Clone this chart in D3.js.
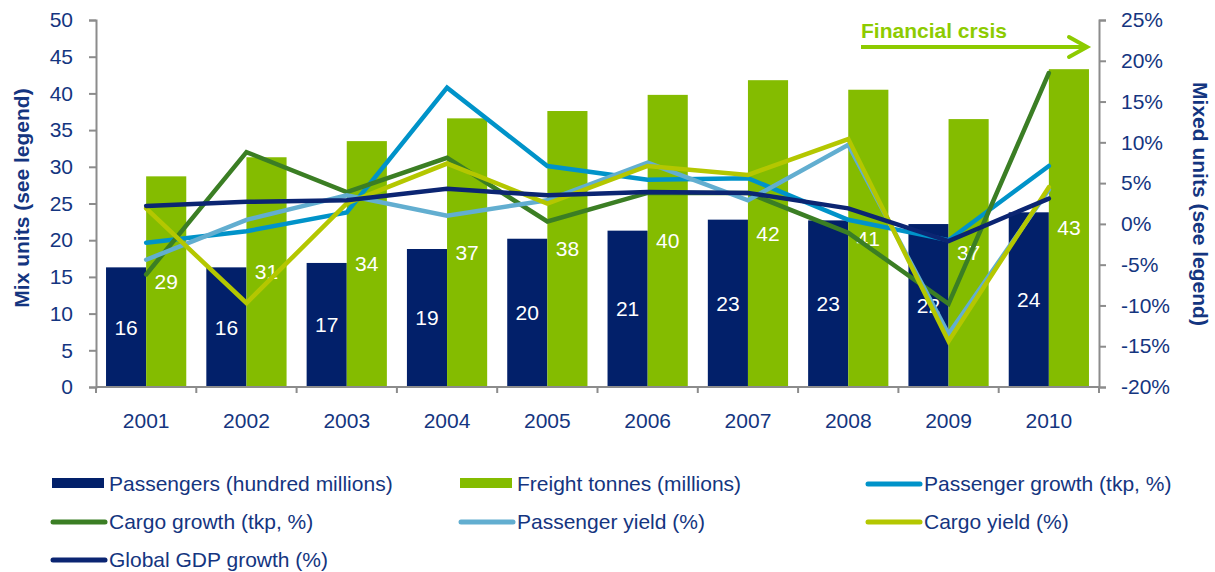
<!DOCTYPE html>
<html>
<head>
<meta charset="utf-8">
<script src="https://cdn.jsdelivr.net/npm/d3@7"></script>
<style>
  body { margin: 0; background: #fff; }
  svg { font-family: "Liberation Sans", Arial, sans-serif; }
</style>
</head>
<body>
<script>
// chart data
var years = ["2001","2002","2003","2004","2005","2006","2007","2008","2009","2010"];
var passengers = [16.3, 16.3, 16.9, 18.8, 20.2, 21.3, 22.8, 22.7, 22.2, 23.8];
var freight = [28.7, 31.3, 33.5, 36.6, 37.6, 39.8, 41.8, 40.5, 36.5, 43.3];
var passengerLabels = [16, 16, 17, 19, 20, 21, 23, 23, 22, 24];
var freightLabels = [29, 31, 34, 37, 38, 40, 42, 41, 37, 43];

var passengerGrowth = [-2.3, -0.9, 1.4, 16.7, 7.1, 5.4, 5.6, 0.5, -2.0, 7.1];
var cargoGrowth = [-6.2, 8.8, 3.9, 8.1, 0.3, 3.8, 3.8, -1.1, -9.8, 18.5];
var passengerYield = [-4.4, 0.5, 3.5, 1.0, 2.9, 7.5, 2.9, 9.7, -13.5, 4.2];
var cargoYield = [1.9, -9.7, 2.5, 7.4, 2.5, 7.1, 6.0, 10.4, -14.4, 4.5];
var gdpGrowth = [2.2, 2.7, 2.9, 4.3, 3.5, 3.9, 3.8, 1.9, -2.1, 3.1];

var leftTicks = [0, 5, 10, 15, 20, 25, 30, 35, 40, 45, 50];
var rightTicks = [-20, -15, -10, -5, 0, 5, 10, 15, 20, 25];

var navy = '#02206a';
var lime = '#84bc00';
var textColor = '#143580';
var axisColor = '#8c8c8c';
var fontSize = "21px";

var lineSeries = [
  {name: "Passenger growth (tkp, %)", values: passengerGrowth, color: '#0093c9'},
  {name: "Cargo growth (tkp, %)", values: cargoGrowth, color: '#3b7e24'},
  {name: "Passenger yield (%)", values: passengerYield, color: '#62aed0'},
  {name: "Cargo yield (%)", values: cargoYield, color: '#b4c700'},
  {name: "Global GDP growth (%)", values: gdpGrowth, color: '#0b2572'}
];

var width = 1215, height = 572;
var plot = {left: 96, right: 1099, top: 20, bottom: 387};

var svg = d3.select("body")
    .append("svg")
        .attr("width", width)
        .attr("height", height);

var x0 = d3.scaleBand().domain(years).range([plot.left, plot.right]);
var x1 = d3.scaleBand().domain(["p", "f"])
    .range([x0.bandwidth() * 0.1, x0.bandwidth() * 0.9]);
var yL = d3.scaleLinear().domain([0, 50]).range([plot.bottom, plot.top]);
var yR = d3.scaleLinear().domain([-20, 25]).range([plot.bottom, plot.top]);

// bars
var groups = svg.append("g").selectAll("g")
    .data(years)
    .enter().append("g")
        .attr("transform", function(d) { return "translate(" + x0(d) + ",0)"; });

groups.append("rect")
    .attr("x", x1("p"))
    .attr("width", x1.bandwidth())
    .attr("y", function(d, i) { return yL(passengers[i]); })
    .attr("height", function(d, i) { return yL(0) - yL(passengers[i]); })
    .style("fill", navy);

groups.append("rect")
    .attr("x", x1("f"))
    .attr("width", x1.bandwidth())
    .attr("y", function(d, i) { return yL(freight[i]); })
    .attr("height", function(d, i) { return yL(0) - yL(freight[i]); })
    .style("fill", lime);

// axes
var axisLeft = svg.append("g")
    .attr("transform", "translate(" + plot.left + ",0)")
    .call(d3.axisLeft(yL).tickValues(leftTicks).tickSize(7).tickPadding(16));

var axisRight = svg.append("g")
    .attr("transform", "translate(" + plot.right + ",0)")
    .call(d3.axisRight(yR).tickValues(rightTicks).tickSize(7).tickPadding(15)
        .tickFormat(function(d) { return d + "%"; }));

var axisBottom = svg.append("g")
    .attr("transform", "translate(0," + plot.bottom + ")")
    .call(d3.axisBottom(x0).tickSize(0).tickPadding(26));

// tick marks at category boundaries on the x axis
axisBottom.selectAll(".bound")
    .data(d3.range(years.length + 1))
    .enter().append("line")
        .attr("x1", function(i) { return plot.left + i * x0.step(); })
        .attr("x2", function(i) { return plot.left + i * x0.step(); })
        .attr("y1", 0)
        .attr("y2", 6)
        .style("stroke", axisColor)
        .style("stroke-width", 2);

[axisLeft, axisRight, axisBottom].forEach(function(a) {
  a.select(".domain").style("stroke", axisColor).style("stroke-width", 2);
  a.selectAll(".tick line").style("stroke", axisColor).style("stroke-width", 2);
  a.selectAll("text")
      .style("fill", textColor)
      .style("font-size", fontSize)
      .style("font-family", '"Liberation Sans", Arial, sans-serif');
});
axisBottom.select(".domain").attr("d", "M" + plot.left + ",0H" + plot.right);

// bar value labels
groups.append("text")
    .text(function(d, i) { return passengerLabels[i]; })
    .attr("x", x1("p") + x1.bandwidth() / 2)
    .attr("y", function(d, i) { return (yL(passengers[i]) + yL(0)) / 2; })
    .attr("dy", "0.35em")
    .attr("text-anchor", "middle")
    .style("fill", "#fff")
    .style("font-size", fontSize);

groups.append("text")
    .text(function(d, i) { return freightLabels[i]; })
    .attr("x", x1("f") + x1.bandwidth() / 2)
    .attr("y", function(d, i) { return (yL(freight[i]) + yL(0)) / 2; })
    .attr("dy", "0.35em")
    .attr("text-anchor", "middle")
    .style("fill", "#fff")
    .style("font-size", fontSize);

// lines on the right axis
var line = d3.line()
    .x(function(d, i) { return x0(years[i]) + x0.bandwidth() / 2; })
    .y(function(d) { return yR(d); });

lineSeries.forEach(function(s) {
  svg.append("path")
      .attr("d", line(s.values))
      .style("fill", "none")
      .style("stroke", s.color)
      .style("stroke-width", 4.5)
      .style("stroke-linejoin", "miter")
      .style("stroke-linecap", "round");
});

// axis titles
svg.append("text")
    .text("Mix units (see legend)")
    .attr("transform", "translate(22,198) rotate(-90)")
    .attr("text-anchor", "middle")
    .attr("dy", "0.35em")
    .style("fill", textColor)
    .style("font-weight", "bold")
    .style("font-size", fontSize);

svg.append("text")
    .text("Mixed units (see legend)")
    .attr("transform", "translate(1200,204) rotate(90)")
    .attr("text-anchor", "middle")
    .attr("dy", "0.35em")
    .style("fill", textColor)
    .style("font-weight", "bold")
    .style("font-size", fontSize);

// financial crisis annotation
var arrowColor = '#8dcb00';
svg.append("text")
    .text("Financial crsis")
    .attr("x", 861)
    .attr("y", 38)
    .style("fill", arrowColor)
    .style("font-weight", "bold")
    .style("font-size", fontSize);

svg.append("line")
    .attr("x1", 861).attr("y1", 47)
    .attr("x2", 1085).attr("y2", 47)
    .style("stroke", arrowColor)
    .style("stroke-width", 4);

svg.append("path")
    .attr("d", "M1069,37L1087,47L1069,57")
    .style("fill", "none")
    .style("stroke", arrowColor)
    .style("stroke-width", 4)
    .style("stroke-linecap", "round");

// legend
var legendItems = [
  {name: "Passengers (hundred millions)", color: navy, type: "bar"},
  {name: "Freight tonnes (millions)", color: lime, type: "bar"}
].concat(lineSeries.map(function(s) { return {name: s.name, color: s.color, type: "line"}; }));

var legendCols = [52, 460, 867];
var legendRows = [484, 522, 560];

var legend = svg.append("g").selectAll("g")
    .data(legendItems)
    .enter().append("g")
        .attr("transform", function(d, i) {
          return "translate(" + legendCols[i % 3] + "," + legendRows[Math.floor(i / 3)] + ")";
        });

legend.filter(function(d) { return d.type == "bar"; })
    .append("rect")
        .attr("x", 0).attr("y", -6)
        .attr("width", 52).attr("height", 10)
        .style("fill", function(d) { return d.color; });

legend.filter(function(d) { return d.type == "line"; })
    .append("line")
        .attr("x1", 1).attr("x2", 53)
        .attr("y1", 0).attr("y2", 0)
        .style("stroke", function(d) { return d.color; })
        .style("stroke-width", 5)
        .style("stroke-linecap", "round");

legend.append("text")
    .text(function(d) { return d.name; })
    .attr("x", 57)
    .attr("dy", "0.35em")
    .style("fill", textColor)
    .style("font-size", fontSize);
</script>
</body>
</html>
